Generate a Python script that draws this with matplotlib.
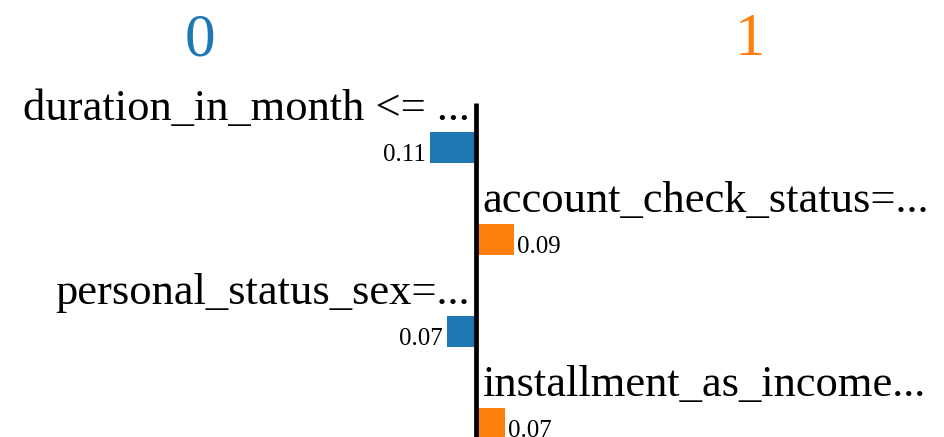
"""
LIME-style explanation bars for classes 0 and 1.
"""

import numpy as np
import matplotlib
matplotlib.use("Agg")
import matplotlib.pyplot as plt

### Data ###
class_names = ['0', '1']
features = ['duration_in_month <= ...', 'account_check_status=...',
            'personal_status_sex=...', 'installment_as_income...']
weights = [-0.11, 0.09, -0.07, 0.07]  # negative -> class 0, positive -> class 1

### Style ###
colors = {'0': '#1f77b4', '1': '#ff7f0e'}
plt.rcParams['font.family'] = ['Liberation Serif', 'DejaVu Serif']

fig = plt.figure(figsize=(9.45, 4.37), dpi=100)
ax = fig.add_axes([0, 0, 1, 1])
ax.axis('off')

# 420 px per unit of weight, zero at x = 476 px; 92 px per row, row 0 centred at 147.5 px
ax.set_xlim(-476 / 420, (945 - 476) / 420)
ax.set_ylim((437 - 147.5) / 92, -147.5 / 92)

px = 1 / 420  # one pixel in x data units
rows = np.arange(len(features))
bar_h = 0.34

for i, (name, w) in enumerate(zip(features, weights)):
    c = colors['1'] if w > 0 else colors['0']
    ax.barh(rows[i], w, height=bar_h, color=c, left=0)
    if w > 0:
        ax.text(6 * px, rows[i] - 0.30, name, ha='left', va='baseline', fontsize=32)
        ax.text(w + 3 * px, rows[i] + bar_h / 2 - 0.02, f"{abs(w):.2f}",
                ha='left', va='baseline', fontsize=18)
    else:
        ax.text(-6 * px, rows[i] - 0.30, name, ha='right', va='baseline', fontsize=32)
        ax.text(w - 4 * px, rows[i] + bar_h / 2 - 0.02, f"{abs(w):.2f}",
                ha='right', va='baseline', fontsize=18)

# centre line
ax.plot([0, 0], [-0.484, rows[-1] + 2], color='black', lw=3.4, solid_capstyle='butt')

# class titles
ax.text(-0.657, -1.005, class_names[0], ha='center', va='baseline',
        fontsize=44, color=colors['0'])
ax.text(0.652, -1.005, class_names[1], ha='center', va='baseline',
        fontsize=44, color=colors['1'])

plt.savefig("out.png", dpi=100)
